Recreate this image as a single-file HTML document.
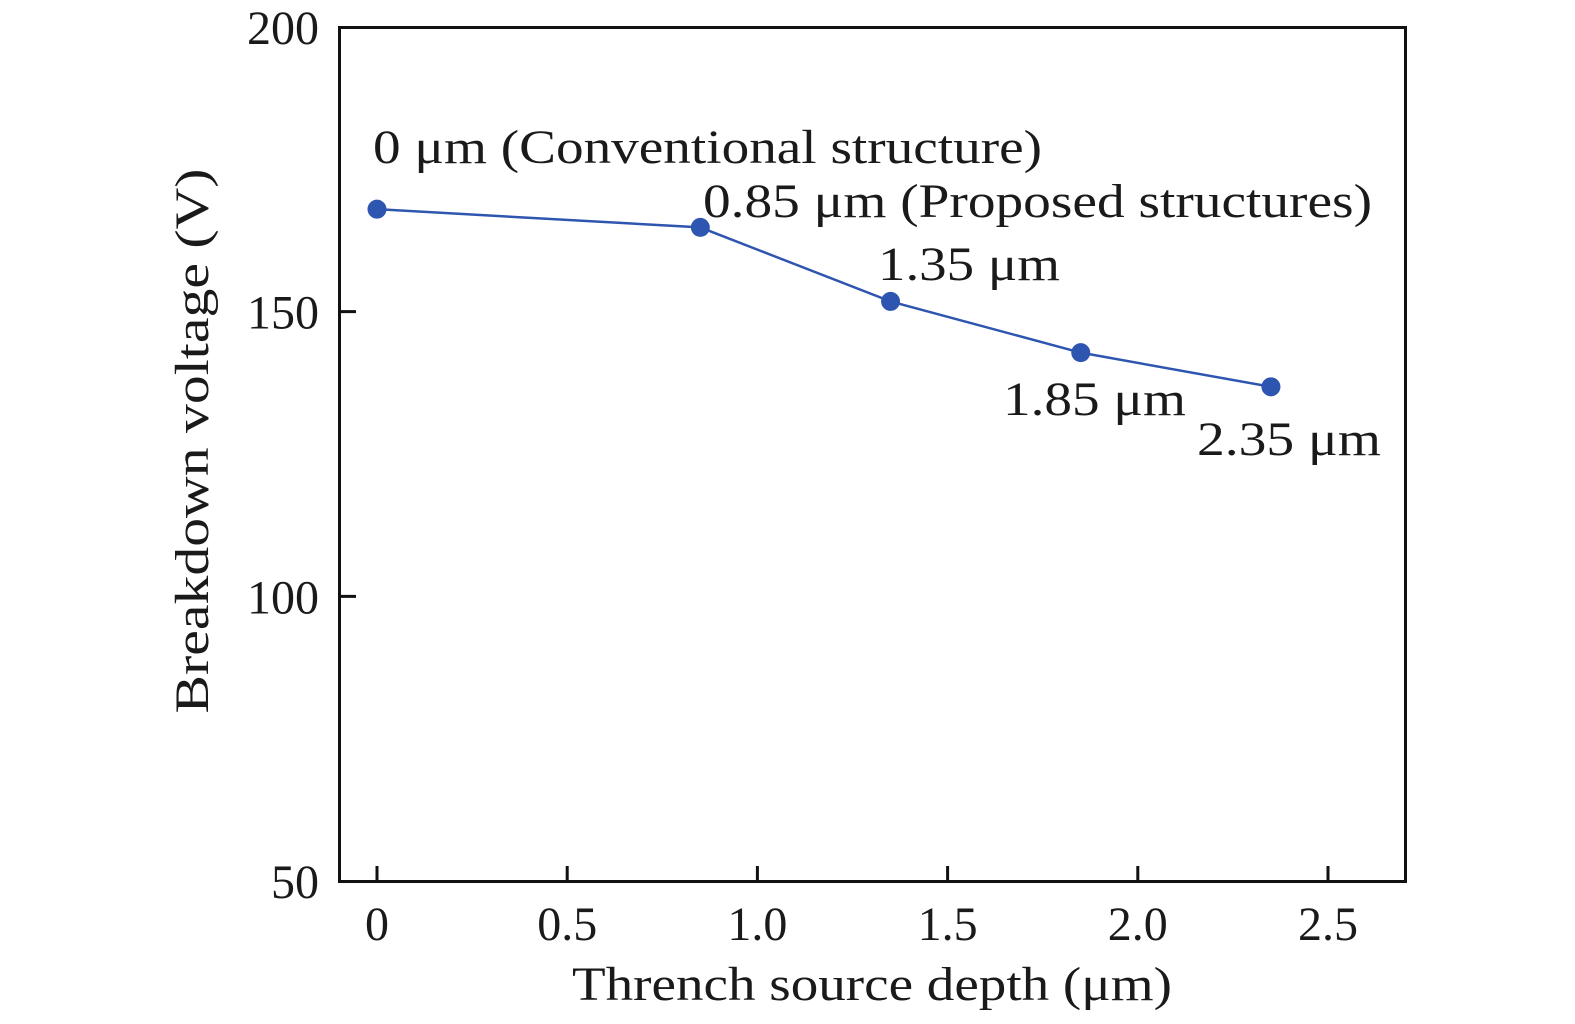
<!DOCTYPE html>
<html><head><meta charset="utf-8"><style>
html,body{margin:0;padding:0;background:#fff;}
svg{display:block;}
svg text{font-family:"Liberation Serif","Times New Roman",Times,serif;}
</style></head><body>
<svg id="chart" width="1575" height="1024" viewBox="0 0 1575 1024" font-family="Liberation Serif, Times New Roman, serif">
<rect x="0" y="0" width="1575" height="1024" fill="#fff"/>
<g id="ticks"></g>
<g id="series"></g>
<rect x="339.5" y="27.5" width="1066" height="854" fill="none" stroke="#111" stroke-width="3"/>
<text x="373" y="163" font-size="48" textLength="669" lengthAdjust="spacingAndGlyphs" fill="#1a1a1a">0 μm (Conventional structure)</text>
<text x="703" y="217" font-size="48" textLength="669" lengthAdjust="spacingAndGlyphs" fill="#1a1a1a">0.85 μm (Proposed structures)</text>
<text x="878" y="280" font-size="48" textLength="182" lengthAdjust="spacingAndGlyphs" fill="#1a1a1a">1.35 μm</text>
<text x="1003" y="415" font-size="48" textLength="183" lengthAdjust="spacingAndGlyphs" fill="#1a1a1a">1.85 μm</text>
<text x="1197" y="455" font-size="48" textLength="184" lengthAdjust="spacingAndGlyphs" fill="#1a1a1a">2.35 μm</text>
<text x="572" y="1000" font-size="48" textLength="600" lengthAdjust="spacingAndGlyphs" fill="#1a1a1a">Thrench source depth (μm)</text>
<text transform="translate(208,441) rotate(-90)" text-anchor="middle" font-size="48" textLength="545" lengthAdjust="spacingAndGlyphs" fill="#1a1a1a">Breakdown voltage (V)</text>
</svg>
<script>
const xValues = [0, 0.85, 1.35, 1.85, 2.35];
const yValues = [168, 164.8, 151.8, 142.8, 136.8];
const xTicks = [0, 0.5, 1.0, 1.5, 2.0, 2.5];
const xTickLabels = ["0", "0.5", "1.0", "1.5", "2.0", "2.5"];
const yTicks = [50, 100, 150, 200];
const yTickLabels = ["50", "100", "150", "200"];

const NS = "http://www.w3.org/2000/svg";
function xs(v){ return 377 + (v - 0) * (1328 - 377) / 2.5; }
function ys(v){ return 881 - (v - 50) * (881 - 27) / 150; }
function mk(tag, attrs, parent){
  const e = document.createElementNS(NS, tag);
  for (const k in attrs) e.setAttribute(k, attrs[k]);
  parent.appendChild(e);
  return e;
}
const tg = document.getElementById('ticks');
xTicks.forEach((t, i) => {
  const l = mk('line', {x1: xs(t), x2: xs(t), y1: 881, y2: 866, stroke: '#111', 'stroke-width': 3}, tg);
  
  
  const tx = mk('text', {x: xs(t), y: 940, 'text-anchor': 'middle', 'font-size': 48, fill: '#1a1a1a'}, tg);
  tx.textContent = xTickLabels[i];
  
  
});
yTicks.forEach((t, i) => {
  if (t !== 50 && t !== 200) {
    const l = mk('line', {x1: 339, x2: 356, y1: ys(t), y2: ys(t), stroke: '#111', 'stroke-width': 3}, tg);
    
    
  }
  const tx = mk('text', {x: 319, y: ys(t) + 17, 'text-anchor': 'end', 'font-size': 48, fill: '#1a1a1a'}, tg);
  tx.textContent = yTickLabels[i];
  
  
});
const sg = document.getElementById('series');
const pts = xValues.map((x, i) => xs(x) + ',' + ys(yValues[i])).join(' ');
const pl = mk('polyline', {points: pts, fill: 'none', stroke: '#2e56b0', 'stroke-width': 2.5}, sg);


xValues.forEach((x, i) => {
  const c = mk('circle', {cx: xs(x), cy: ys(yValues[i]), r: 9.5, fill: '#2e56b0'}, sg);
  
  
});
</script>
</body></html>
